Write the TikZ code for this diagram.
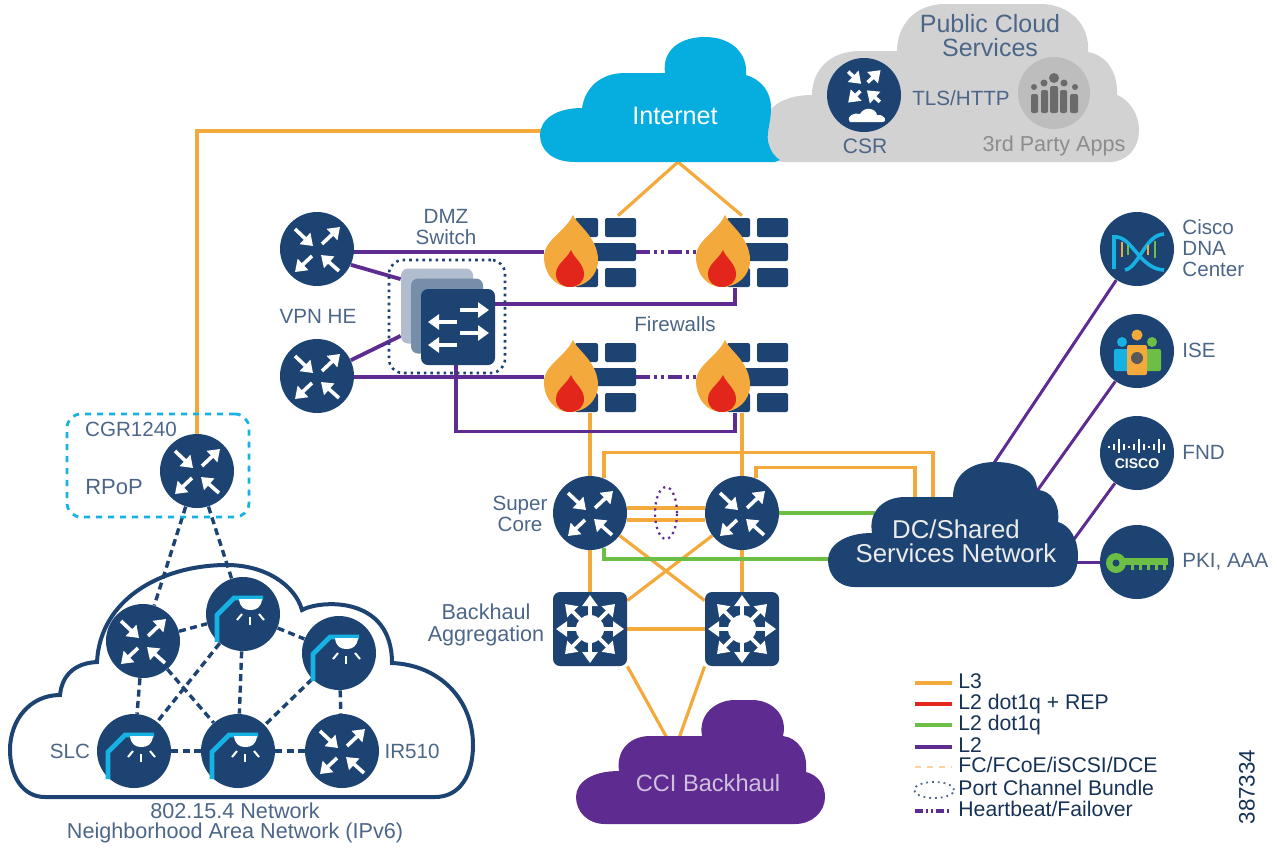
\documentclass[tikz,border=0pt]{standalone}
\usepackage{fontspec}
\setmainfont{Liberation Sans}
\usetikzlibrary{shapes.geometric, arrows.meta, backgrounds, positioning}

\definecolor{navy}{HTML}{1D4373}
\definecolor{sky}{HTML}{06AEDF}
\definecolor{lampblue}{HTML}{16B2E4}
\definecolor{slate}{HTML}{4C6688}
\definecolor{amber}{HTML}{F4A93C}
\definecolor{plum}{HTML}{5E2B90}
\definecolor{leaf}{HTML}{6CBE45}
\definecolor{ember}{HTML}{E2261C}
\definecolor{cloudgray}{HTML}{D2D2D2}

\tikzset{
  lbl/.style={text=slate, inner sep=0, align=center, font=\fontsize{10.3}{10.6}\selectfont},
  hub/.style={circle, fill=navy, inner sep=0, minimum size=37pt},
  boxhub/.style={rectangle, rounded corners=3.5pt, fill=navy, inner sep=0, minimum size=37pt},
  fwall/.style={rectangle, inner sep=0, minimum width=46pt, minimum height=36pt},
  lthree/.style={amber, line width=1.6pt},
  ltwo/.style={plum, line width=1.9pt},
  ldot/.style={leaf, line width=1.6pt},
  lred/.style={ember, line width=1.6pt},
  lfc/.style={amber!50, line width=1pt, dashed},
  hbeat/.style={plum, line width=1.6pt, dash pattern=on 7pt off 2pt on 1.5pt off 2pt on 1.5pt off 2pt},
  meshlink/.style={navy, line width=1.7pt, dash pattern=on 3.5pt off 2.2pt},
  bundle/.style={ellipse, draw=plum, dotted, line width=1.1pt, inner sep=0},
  legendtxt/.style={lbl, anchor=west, text=navy!75!black, text height=7pt, text depth=2pt, font=\fontsize{10.6}{11}\selectfont},
  hubarrow/.style={white, line width=1.8pt, -{Triangle[length=5.5pt,width=7.5pt]}},
  routerarrows/.pic={
    \draw[hubarrow] (-22,-20) -- (-4,-3);
    \draw[hubarrow] (5,-5) -- (23,-22);
    \draw[hubarrow] (-5,7) -- (-22,23);
    \draw[hubarrow] (22,22) -- (4,6);
  },
  switcharrows/.pic={
    \draw[hubarrow] (2,-17) -- (31,-17);
    \draw[hubarrow] (-1,-5) -- (-30,-5);
    \draw[hubarrow] (2,6) -- (31,6);
    \draw[hubarrow] (-1,18) -- (-30,18);
  },
  aggarrows/.pic={
    \fill[white] (0,0) circle [radius=14];
    \draw[hubarrow] (0,0) -- (0,-34);
    \draw[hubarrow] (0,0) -- (25,-25);
    \draw[hubarrow] (0,0) -- (34,0);
    \draw[hubarrow] (0,0) -- (25,25);
    \draw[hubarrow] (0,0) -- (0,34);
    \draw[hubarrow] (0,0) -- (-25,25);
    \draw[hubarrow] (0,0) -- (-34,0);
    \draw[hubarrow] (0,0) -- (-25,-25);
  },
  lampicon/.pic={
    \draw[lampblue, line width=2.4pt] (-26,28) -- (-26,1) -- (-9,-16) -- (20,-16);
    \fill[white] (-4,-15) .. controls (-3,-6) and (2,-4) .. (7.5,-4) .. controls (13,-4) and (18,-6) .. (19,-15) -- cycle;
    \draw[white, line width=1pt] (-6,6) -- (-1,0);
    \draw[white, line width=1pt] (7,3) -- (7,11);
    \draw[white, line width=1pt] (16,0) -- (21,6);
  },
  fwallicon/.pic={
    \fill[navy, rounded corners=1pt] (-15,-34) rectangle (8,-15);
    \fill[navy, rounded corners=1pt] (15,-34) rectangle (46,-15);
    \fill[navy, rounded corners=1pt] (-5,-9) rectangle (46,9);
    \fill[navy, rounded corners=1pt] (-15,16) rectangle (8,35);
    \fill[navy, rounded corners=1pt] (15,16) rectangle (46,35);
    \fill[amber] (-17,-37) .. controls (-14,-28) and (8,-15) .. (8,8) .. controls (8,24) and (-5,35) .. (-20,35) .. controls (-35,35) and (-46,22) .. (-46,5) .. controls (-46,-12) and (-25,-20) .. (-17,-37) -- cycle;
    \fill[ember] (-19,-2) .. controls (-16,6) and (-6,12) .. (-6,22) .. controls (-6,30) and (-12,35) .. (-20,35) .. controls (-28,35) and (-34,30) .. (-34,22) .. controls (-34,12) and (-24,8) .. (-19,-2) -- cycle;
  },
  dnaicon/.pic={
    \draw[lampblue, line width=1.8pt] (-23,20) -- (-23,-12) .. controls (-5,-14) and (2,20) .. (27,21);
    \draw[lampblue, line width=1.8pt] (-12,21) .. controls (2,18) and (8,-14) .. (27,-15);
    \draw[amber, line width=1.3pt] (-15,-7) -- (-15,8);
    \draw[leaf, line width=1.3pt] (-9,-4) -- (-9,6);
    \draw[amber, line width=1.3pt] (11,-4) -- (11,6);
    \draw[leaf, line width=1.3pt] (18,-8) -- (18,9);
  },
  iseicon/.pic={
    \fill[lampblue] (-15,-9) circle [radius=5];
    \fill[lampblue, rounded corners=1pt] (-23,-2) rectangle (-7,20);
    \fill[leaf] (15,-9) circle [radius=5];
    \fill[leaf, rounded corners=1pt] (7,-2) rectangle (24,20);
    \fill[amber] (0,-16) circle [radius=5.5];
    \fill[amber, rounded corners=1pt] (-10,-6) rectangle (10,24);
    \fill[black!65] (0,7) circle [radius=6];
  },
  ciscoicon/.pic={
    \draw[white, line width=.9pt] (-28,-7) -- (-28,-5);
    \draw[white, line width=.9pt] (-23,-9) -- (-23,-3);
    \draw[white, line width=.9pt] (-18,-14) -- (-18,0);
    \draw[white, line width=.9pt] (-13,-9) -- (-13,-3);
    \draw[white, line width=.9pt] (-8,-7) -- (-8,-5);
    \draw[white, line width=.9pt] (-3,-9) -- (-3,-3);
    \draw[white, line width=.9pt] (2,-14) -- (2,0);
    \draw[white, line width=.9pt] (7,-9) -- (7,-3);
    \draw[white, line width=.9pt] (12,-7) -- (12,-5);
    \draw[white, line width=.9pt] (17,-9) -- (17,-3);
    \draw[white, line width=.9pt] (22,-14) -- (22,0);
    \draw[white, line width=.9pt] (27,-9) -- (27,-3);
    \node[text=white, inner sep=0, font=\fontsize{7}{7}\selectfont\bfseries] (ciscoword) at (0,11) {CISCO};
  },
  keyicon/.pic={
    \fill[leaf] (-21,1) circle [radius=10];
    \fill[navy] (-21,1) circle [radius=3.5];
    \fill[leaf] (-14,-4) rectangle (31,3);
    \fill[leaf] (-6,3) rectangle (-3,8);
    \fill[leaf] (2,3) rectangle (5,8);
    \fill[leaf] (10,3) rectangle (13,8);
    \fill[leaf] (18,3) rectangle (21,8);
    \fill[leaf] (26,3) rectangle (29,8);
  },
  partyicon/.pic={
    \fill[black!58] (0,-15) circle [radius=5];
    \fill[black!58] (-10,-10) circle [radius=3.5];
    \fill[black!58] (10,-10) circle [radius=3.5];
    \fill[black!58] (-20,-6) circle [radius=3];
    \fill[black!58] (21,-6) circle [radius=3];
    \fill[black!58, rounded corners=1pt] (-23,1) rectangle (-16,20);
    \fill[black!58, rounded corners=1pt] (-13,-3) rectangle (-6,20);
    \fill[black!58, rounded corners=1pt] (-4,-7) rectangle (4,20);
    \fill[black!58, rounded corners=1pt] (6,-3) rectangle (13,20);
    \fill[black!58, rounded corners=1pt] (16,1) rectangle (24,20);
  },
}

\begin{document}
\begin{tikzpicture}[x=0.5pt,y=-0.5pt]
\useasboundingbox (0,0) rectangle (1277,847);

\fill [cloudgray] (785,162) .. controls (770,162) and (763,145) .. (763,130) .. controls (763,110) and (780,95) .. (812,95) .. controls (812,70) and (830,51) .. (860,51) -- (897,51) .. controls (897,25) and (915,4) .. (945,4) -- (1040,4) .. controls (1070,4) and (1090,25) .. (1088,52) .. controls (1105,55) and (1118,70) .. (1117,95) .. controls (1130,100) and (1139,115) .. (1139,130) .. controls (1139,150) and (1125,162) .. (1110,162) -- cycle;
\fill [sky] (575,162) .. controls (552,162) and (540,150) .. (540,135) .. controls (540,120) and (555,108) .. (582,108) .. controls (585,88) and (600,73) .. (625,73) -- (665,73) .. controls (662,50) and (680,37) .. (705,37) .. controls (730,37) and (748,52) .. (746,75) .. controls (762,80) and (771,92) .. (771,108) .. controls (771,125) and (765,135) .. (769,145) .. controls (771,152) and (775,157) .. (780,160) -- (775,162) -- cycle;
\fill [navy] (855,587) .. controls (838,587) and (828,575) .. (828,560) .. controls (828,545) and (845,533) .. (872,533) .. controls (868,510) and (885,497) .. (905,497) -- (953,497) .. controls (953,475) and (970,462) .. (995,462) .. controls (1020,462) and (1037,472) .. (1037,490) .. controls (1052,490) and (1060,505) .. (1058,522) .. controls (1070,525) and (1078,540) .. (1078,555) .. controls (1078,575) and (1068,587) .. (1050,587) -- cycle;
\fill [plum] (605,824) .. controls (588,824) and (576,812) .. (576,797) .. controls (576,782) and (592,771) .. (619,771) .. controls (616,750) and (630,736) .. (650,736) -- (702,736) .. controls (698,715) and (715,700) .. (735,700) -- (752,700) .. controls (772,700) and (788,715) .. (783,736) .. controls (798,738) and (808,752) .. (806,772) .. controls (818,775) and (825,785) .. (825,797) .. controls (825,812) and (812,824) .. (795,824) -- cycle;
\draw [navy, line width=2pt] (45,797) .. controls (22,797) and (10,775) .. (10,750) .. controls (10,720) and (30,695) .. (60,695) .. controls (62,675) and (75,663) .. (97,662) .. controls (100,600) and (160,565) .. (227,565) .. controls (265,565) and (295,585) .. (302,610) .. controls (320,600) and (392,595) .. (392,663) .. controls (440,665) and (473,700) .. (473,745) .. controls (473,775) and (460,797) .. (435,797) -- cycle;

\coordinate (inetb) at (678,162);
\coordinate (inetl) at (560,131);
\coordinate (dca) at (933,500);
\coordinate (dcb) at (915,500);
\coordinate (dcc) at (875,513);
\coordinate (dcd) at (835,559);
\coordinate (dcdna) at (992,466);
\coordinate (dcise) at (1037,491);
\coordinate (dcfnd) at (1072,542);
\coordinate (dcpki) at (1070,562);
\coordinate (ccia) at (667,738);
\coordinate (ccib) at (679,738);

\node [lbl, text=white, font=\fontsize{12.6}{13}\selectfont] (inettxt) at (675,116) {Internet};
\node [lbl, font=\fontsize{12.5}{12}\selectfont] (pubtxt) at (990,36) {Public Cloud\\Services};
\node [lbl] (tlstxt) at (961,98) {TLS/HTTP};
\node [lbl, font=\fontsize{10.5}{11}\selectfont] (csrtxt) at (865,146) {CSR};
\node [lbl, text=black!45, font=\fontsize{10.8}{11}\selectfont] (apptxt) at (1054,146) {3rd Party Apps};
\node [lbl, text=black!8, font=\fontsize{12.9}{12}\selectfont] (dctxt) at (956,541) {DC/Shared\\Services Network};
\node [lbl, text=plum!30, font=\fontsize{11.8}{12}\selectfont] (ccitxt) at (708,783) {CCI Backhaul};

\node [hub] (csr) at (864,95) {};
\pic [scale=0.72] at (864,86) {routerarrows};
\fill [white] (850,122) .. controls (845,116) and (855,112) .. (860,114) .. controls (864,106) and (876,108) .. (877,115) .. controls (885,114) and (888,122) .. (882,122) -- cycle;
\node [circle, fill=black!26, inner sep=0, minimum size=36pt] (party) at (1054,93) {};
\pic at (party) {partyicon};

\node [hub] (vpna) at (317,249) {};
\pic at (vpna) {routerarrows};
\node [hub] (vpnb) at (317,376) {};
\pic at (vpnb) {routerarrows};
\node [lbl] (vpntxt) at (318,316) {VPN HE};
\node [lbl] (dmztxt) at (446,227) {DMZ\\Switch};
\node [lbl] (fwtxt) at (675,324) {Firewalls};

\node [boxhub, minimum width=36pt, minimum height=37.5pt, fill=navy!35] (swa) at (437,306) {};
\node [boxhub, minimum width=36pt, minimum height=37.5pt, fill=navy!60] (swb) at (447,316) {};
\node [boxhub, minimum width=37pt, minimum height=38pt] (swc) at (458,327) {};
\pic at (swc) {switcharrows};
\node [draw=navy, dotted, line width=1.3pt, rounded corners=7pt, inner sep=0, minimum width=58pt, minimum height=56.5pt] (swbox) at (447,316.5) {};

\node [fwall] (fwa) at (590,252) {};
\pic at (fwa) {fwallicon};
\node [fwall] (fwb) at (742,252) {};
\pic at (fwb) {fwallicon};
\node [fwall] (fwc) at (590,377) {};
\pic at (fwc) {fwallicon};
\node [fwall] (fwd) at (742,377) {};
\pic at (fwd) {fwallicon};

\node [hub] (sca) at (590,513) {};
\pic at (sca) {routerarrows};
\node [hub] (scb) at (742,513) {};
\pic at (scb) {routerarrows};
\node [boxhub] (agga) at (590,629) {};
\pic at (agga) {aggarrows};
\node [boxhub] (aggb) at (742,629) {};
\pic at (aggb) {aggarrows};
\node [lbl] (sctxt) at (520,514) {Super\\Core};
\node [lbl, font=\fontsize{10.8}{11}\selectfont] (aggtxt) at (486,625) {Backhaul\\Aggregation};
\node [bundle, minimum width=11pt, minimum height=26pt] (pcb) at (666,513) {};

\node [hub] (dna) at (1137,249) {};
\pic at (dna) {dnaicon};
\node [hub] (ise) at (1137,351) {};
\pic at (ise) {iseicon};
\node [hub] (fnd) at (1137,453) {};
\pic at (fnd) {ciscoicon};
\node [hub] (pki) at (1137,562) {};
\pic at (pki) {keyicon};
\node [lbl, anchor=west, align=left] (dnatxt) at (1182,248) {Cisco\\DNA\\Center};
\node [lbl, anchor=west] (isetxt) at (1182,350) {ISE};
\node [lbl, anchor=west] (fndtxt) at (1182,452) {FND};
\node [lbl, anchor=west] (pkitxt) at (1182,562) {PKI, AAA};

\node [hub] (rpop) at (197,471) {};
\pic at (rpop) {routerarrows};
\node [draw=lampblue, dashed, line width=1.4pt, rounded corners=7pt, inner sep=0, minimum width=91pt, minimum height=51.5pt] (rpopbox) at (158,465.5) {};
\node [lbl] (cgrtxt) at (131,429) {CGR1240};
\node [lbl, font=\fontsize{11}{11}\selectfont] (rpoptxt) at (114,487) {RPoP};

\node [hub] (nrta) at (143,641) {};
\pic at (nrta) {routerarrows};
\node [hub] (lmpb) at (243,614) {};
\pic at (lmpb) {lampicon};
\node [hub] (lmpc) at (339,653) {};
\pic at (lmpc) {lampicon};
\node [hub] (lmpd) at (134,751) {};
\pic at (lmpd) {lampicon};
\node [hub] (lmpe) at (238,751) {};
\pic at (lmpe) {lampicon};
\node [hub] (nrtf) at (342,751) {};
\pic at (nrtf) {routerarrows};
\node [lbl] (slctxt) at (70,751) {SLC};
\node [lbl] (irtxt) at (412,751) {IR510};
\node [lbl, font=\fontsize{10.8}{10}\selectfont] (nantxt) at (235,823) {802.15.4 Network\\Neighborhood Area Network (IPv6)};

\begin{scope}[on background layer]
\draw [lthree] (inetl) -| (rpop);
\draw [lthree] (inetb) -- ([xshift=14pt]fwa.north);
\draw [lthree] (inetb) -- (fwb.north);
\draw [lthree] (fwc) -- (sca);
\draw [lthree] (fwd) -- (scb);
\draw [lthree] (sca) -- (agga);
\draw [lthree] (scb) -- (aggb);
\draw [lthree] (sca) -- (aggb);
\draw [lthree] (scb) -- (agga);
\draw [lthree] (agga) -- (aggb);
\draw [lthree] ([yshift=2.5pt]sca.east) -- ([yshift=2.5pt]scb.west);
\draw [lthree] ([yshift=-3.5pt]sca.east) -- ([yshift=-3.5pt]scb.west);
\draw [lthree] (sca.68) -- ++(0,-26) -| (dca);
\draw [lthree] (scb.68) -- ++(0,-11) -| (dcb);
\draw [lthree] (agga.south east) -- (ccia);
\draw [lthree] (aggb.south west) -- (ccib);
\draw [ldot] (scb) -- (dcc);
\draw [ldot] (sca.-68) |- (dcd);

\draw [ltwo] (vpna |- fwa) -- (fwa);
\draw [ltwo] (vpnb |- fwc) -- (fwc);
\draw [ltwo] (vpna.-25) -- ([yshift=-5.5pt]swa.north west);
\draw [ltwo] (vpnb.25) -- ([yshift=4pt]swa.south west);
\draw [ltwo] ([yshift=11.5pt]swc.east) -| ([xshift=-3.5pt]fwb.south);
\draw [ltwo] ([xshift=-1pt]swc.south) -- ++(0,66) -| ([xshift=-3.5pt]fwd.south);
\draw [hbeat] (fwa.east) -- (fwb.west);
\draw [hbeat] (fwc.east) -- (fwd.west);
\draw [ltwo, line width=1.5pt] (dna) -- (dcdna);
\draw [ltwo, line width=1.5pt] (ise) -- (dcise);
\draw [ltwo, line width=1.5pt] (fnd) -- (dcfnd);
\draw [ltwo, line width=1.5pt] (pki) -- (dcpki);

\draw [meshlink] (rpop) -- (nrta);
\draw [meshlink] (rpop) -- (lmpb);
\draw [meshlink] (nrta) -- (lmpb);
\draw [meshlink] (lmpb) -- (lmpc);
\draw [meshlink] (nrta) -- (lmpd);
\draw [meshlink] (lmpb) -- (lmpd);
\draw [meshlink] (nrta) -- (lmpe);
\draw [meshlink] (lmpb) -- (lmpe);
\draw [meshlink] (lmpc) -- (lmpe);
\draw [meshlink] (lmpc) -- (nrtf);
\draw [meshlink] (lmpd) -- (lmpe);
\draw [meshlink] (lmpe) -- (nrtf);
\end{scope}

\node [legendtxt] (lega) at (958,683) {L3};
\node [legendtxt] (legb) at (958,704) {L2 dot1q + REP};
\node [legendtxt] (legc) at (958,725) {L2 dot1q};
\node [legendtxt] (legd) at (958,747) {L2};
\node [legendtxt] (lege) at (958,767) {FC/FCoE/iSCSI/DCE};
\node [legendtxt] (legf) at (958,790) {Port Channel Bundle};
\node [legendtxt] (legg) at (958,811) {Heartbeat/Failover};
\draw [lthree] ([xshift=-21.5pt]lega.west) -- ([xshift=-3pt]lega.west);
\draw [lred] ([xshift=-21.5pt]legb.west) -- ([xshift=-3pt]legb.west);
\draw [ldot] ([xshift=-21.5pt]legc.west) -- ([xshift=-3pt]legc.west);
\draw [ltwo] ([xshift=-21.5pt]legd.west) -- ([xshift=-3pt]legd.west);
\draw [lfc] ([xshift=-21.5pt]lege.west) -- ([xshift=-3pt]lege.west);
\node [bundle, draw=slate, line width=.9pt, minimum width=20pt, minimum height=8pt, left=1.5pt of legf] (legbundle) {};
\draw [hbeat, dash pattern=on 4pt off 1.5pt on 1pt off 1.5pt on 1pt off 1.5pt] ([xshift=-21.5pt]legg.west) -- ([xshift=-3pt]legg.west);
\node [lbl, text=navy!75!black, rotate=90, font=\fontsize{11.2}{11}\selectfont] (figno) at (1247,787) {387334};
\end{tikzpicture}
\end{document}
